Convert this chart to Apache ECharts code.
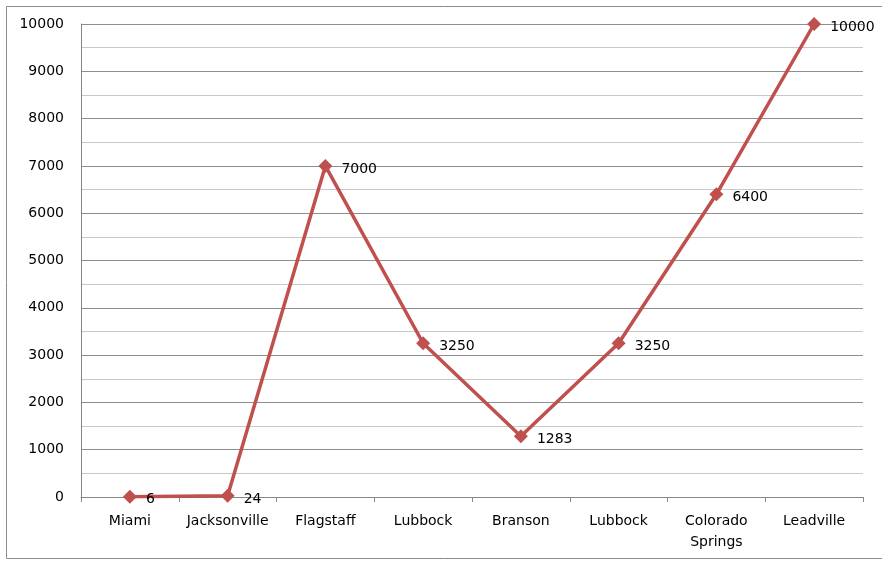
<!DOCTYPE html>
<html>
<head>
<meta charset="utf-8">
<script src="https://cdn.jsdelivr.net/npm/echarts@6/dist/echarts.min.js"></script>
<style>
  html, body { margin: 0; padding: 0; background: #fff; overflow: hidden; }
  #main { width: 882px; height: 561px; }
</style>
</head>
<body>
<div id="main"></div>
<script>
let cities = ['Miami', 'Jacksonville', 'Flagstaff', 'Lubbock', 'Branson', 'Lubbock', 'Colorado\nSprings', 'Leadville'];
let heights = [6, 24, 7000, 3250, 1283, 3250, 6400, 10000];
let yMin = 0, yMax = 10000, yStep = 1000;

let chart = echarts.init(document.getElementById('main'));

// Excel-style fonts and greys
let font = '"DejaVu Sans", sans-serif';
let grey = '#868686';
let frame = { stroke: '#8c8c8c', lineWidth: 1 };

chart.setOption({
  animation: false,
  // chart frame: top, left and bottom edges (right edge is cut off)
  graphic: [
    { type: 'polyline', silent: true,
      shape: { points: [[882, 6.5], [6.5, 6.5], [6.5, 558.5], [882, 558.5]] },
      style: frame }
  ],
  grid: { left: 81, right: 19, top: 24, bottom: 64 },
  xAxis: {
    type: 'category',
    data: cities,
    boundaryGap: true,
    axisLine: { lineStyle: { color: grey, width: 1 } },
    axisTick: { show: true, interval: 0, length: 5, lineStyle: { color: grey } },
    axisLabel: {
      interval: 0, color: '#000', fontFamily: font, fontSize: 14,
      margin: 14, lineHeight: 21
    },
    splitLine: { show: false }
  },
  yAxis: {
    type: 'value',
    min: yMin, max: yMax, interval: yStep,
    axisLine: { show: true, lineStyle: { color: grey, width: 1 } },
    axisTick: { show: false },
    axisLabel: {
      color: '#000', fontFamily: font, fontSize: 14, margin: 17,
      formatter: v => String(v)
    },
    splitLine: { show: true, lineStyle: { color: '#8e8e8e', width: 1 } },
    minorTick: { show: false, splitNumber: 2 },
    minorSplitLine: { show: true, lineStyle: { color: '#c8c8c8', width: 1 } }
  },
  series: [{
    type: 'line',
    data: heights,
    symbol: 'diamond',
    symbolSize: 14,
    lineStyle: { color: '#C0504D', width: 3.5 },
    itemStyle: { color: '#C0504D' },
    label: {
      show: true, position: 'right', distance: 9,
      offset: [0, 3],
      color: '#000', fontFamily: font, fontSize: 14
    }
  }]
});
</script>
</body>
</html>
